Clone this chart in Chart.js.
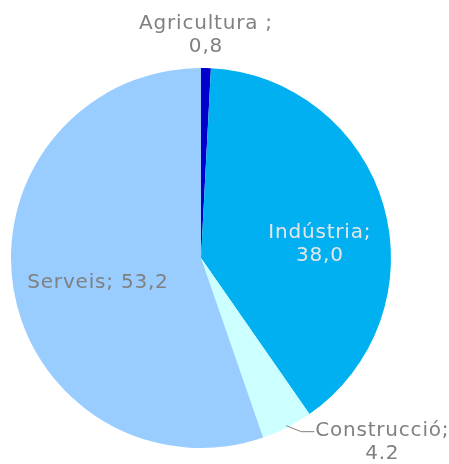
<!DOCTYPE html>
<html>
<head>
<meta charset="utf-8">
<script src="https://cdn.jsdelivr.net/npm/chart.js@4"></script>
<style>
  html, body { margin: 0; padding: 0; background: #fff; }
  #wrap { width: 449px; height: 464px; }
</style>
</head>
<body>
<div id="wrap"><canvas id="pie"></canvas></div>
<script>
var sectors = ['Agricultura', 'Indústria', 'Construcció', 'Serveis'];
var shares = [0.8, 38.0, 4.2, 53.2];
var shareText = ['0,8', '38,0', '4.2', '53,2'];
var colors = ['#0000cc', '#00b0f0', '#ccffff', '#99ccff'];

// label placement: angle offset (deg) from slice middle, radius factor, text lines
var labelSpec = [
    { lines: ['Agricultura ;', shareText[0]], da: 0, rf: 1.0, dx: 0, dy: -33, color: '#808080' },
    { lines: ['Indústria;', shareText[1]], da: 9, rf: 0.63, dx: 0, dy: 1, color: '#e6e6e6' },
    { lines: ['Construcció;', shareText[2]], da: 0, rf: 1.0, dx: 0, dy: 0, color: '#808080', leader: true },
    { lines: ['Serveis; ' + shareText[3]], da: 0, rf: 0.55, dx: 0, dy: 7, color: '#808080' }
];

var labelPlugin = {
    id: 'sliceLabels',
    afterDatasetsDraw: function(chart) {
        var ctx = chart.ctx;
        var meta = chart.getDatasetMeta(0);
        ctx.save();
        ctx.font = '20px "DejaVu Sans", Verdana, sans-serif';
        ctx.letterSpacing = '0.8px';
        ctx.textAlign = 'center';
        ctx.textBaseline = 'middle';
        meta.data.forEach(function(arc, i) {
            var s = labelSpec[i];
            var mid = (arc.startAngle + arc.endAngle) / 2 + s.da * Math.PI / 180;
            var r = arc.outerRadius;
            var x = arc.x + Math.cos(mid) * r * s.rf + s.dx;
            var y = arc.y + Math.sin(mid) * r * s.rf + s.dy;
            if (s.leader) {
                var ex = arc.x + Math.cos(mid) * r * 0.99;
                var ey = arc.y + Math.sin(mid) * r * 0.99;
                ctx.strokeStyle = '#808080';
                ctx.lineWidth = 1;
                ctx.beginPath();
                ctx.moveTo(ex, ey);
                ctx.lineTo(ex + 15, ey + 6);
                ctx.lineTo(ex + 28, ey + 6);
                ctx.stroke();
                x = ex + 96;
                y = ey + 6 + 11;
            }
            ctx.fillStyle = s.color;
            var lh = 23;
            var y0 = y - (s.lines.length - 1) * lh / 2;
            s.lines.forEach(function(t, k) { ctx.fillText(t, x, y0 + k * lh); });
        });
        ctx.restore();
    }
};

new Chart(document.getElementById('pie'), {
    type: 'pie',
    data: { labels: sectors, datasets: [{ data: shares, backgroundColor: colors, borderWidth: 0 }] },
    options: {
        responsive: true,
        maintainAspectRatio: false,
        animation: false,
        layout: { padding: { left: 11, right: 58, top: 68, bottom: 16 } },
        plugins: { legend: { display: false }, tooltip: { enabled: false } }
    },
    plugins: [labelPlugin]
});
</script>
</body>
</html>
